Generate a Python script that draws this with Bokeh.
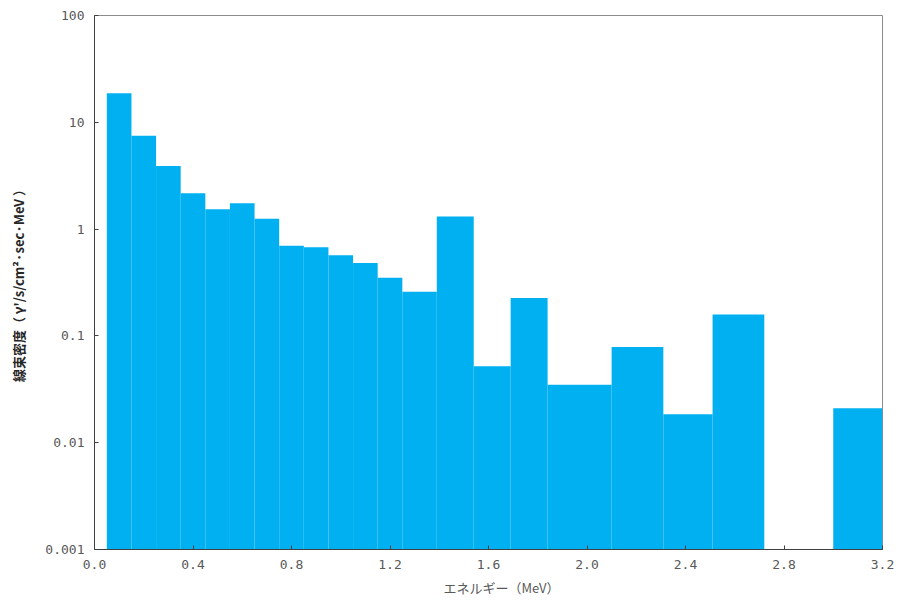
from bokeh.plotting import figure
from bokeh.models import FixedTicker, Title, CustomJSTickFormatter
from bokeh.embed import file_html
from bokeh.resources import INLINE

# Energy bins (MeV) and flux density per bin
bin_left = [0.05, 0.15, 0.25, 0.35, 0.45, 0.55, 0.65, 0.75, 0.85, 0.95, 1.05,
            1.15, 1.25, 1.39, 1.54, 1.69, 1.84, 2.10, 2.31, 2.51, 3.00]
bin_right = [0.15, 0.25, 0.35, 0.45, 0.55, 0.65, 0.75, 0.85, 0.95, 1.05, 1.15,
             1.25, 1.39, 1.54, 1.69, 1.84, 2.10, 2.31, 2.51, 2.72, 3.20]
flux = [18.7, 7.47, 3.90, 2.17, 1.53, 1.75, 1.25, 0.698, 0.677, 0.570, 0.481,
        0.351, 0.259, 1.315, 0.0521, 0.227, 0.0349, 0.0789, 0.0185, 0.159, 0.0210]

x_ticks = [0.0, 0.4, 0.8, 1.2, 1.6, 2.0, 2.4, 2.8, 3.2]
y_ticks = [0.001, 0.01, 0.1, 1, 10, 100]
y_tick_labels = ["0.001", "0.01", "0.1", "1", "10", "100"]

FONT = "Noto Sans CJK JP"
TICK_FONT = "DejaVu Sans Mono"

p = figure(width=898, height=601, output_backend="svg", toolbar_location=None,
           y_axis_type="log", x_range=(0, 3.2), y_range=(0.001, 100),
           min_border_left=94, min_border_right=16, min_border_top=15,
           min_border_bottom=5)

p.quad(left=bin_left, right=bin_right, top=flux, bottom=0.001,
       fill_color="#00B0F0", line_color=None)

p.grid.visible = False
p.outline_line_color = "#8c8c8c"
p.outline_line_width = 1
p.background_fill_color = "white"
p.border_fill_color = "white"

for ax in (p.xaxis, p.yaxis):
    ax.axis_line_color = "#404040"
    ax.major_tick_line_color = "#404040"
    ax.major_tick_in = 4
    ax.major_tick_out = 0
    ax.minor_tick_line_color = None
    ax.major_label_text_font = TICK_FONT
    ax.major_label_text_font_size = "13px"
    ax.major_label_text_color = "#595959"
    ax.major_label_standoff = 10

p.xaxis.ticker = FixedTicker(ticks=x_ticks)
p.xaxis.formatter = CustomJSTickFormatter(code="return tick.toFixed(1);")
p.yaxis.ticker = FixedTicker(ticks=y_ticks)
p.yaxis.major_label_overrides = {t: s for t, s in zip(y_ticks, y_tick_labels)}

p.yaxis.axis_label = "線束密度（ γ'/s/cm²·sec·MeV ）"
p.yaxis.axis_label_text_font = FONT
p.yaxis.axis_label_text_font_size = "13px"
p.yaxis.axis_label_text_font_style = "bold"
p.yaxis.axis_label_text_color = "#262626"
p.yaxis.axis_label_standoff = 14

# x-axis title, set a little right of the frame centre
p.add_layout(Title(text="エネルギー（MeV）", align="left", offset=349,
                   text_font=FONT, text_font_size="13px", text_color="#595959",
                   text_font_style="normal", standoff=9), "below")

open("out.html", "w").write(file_html(p, INLINE))
